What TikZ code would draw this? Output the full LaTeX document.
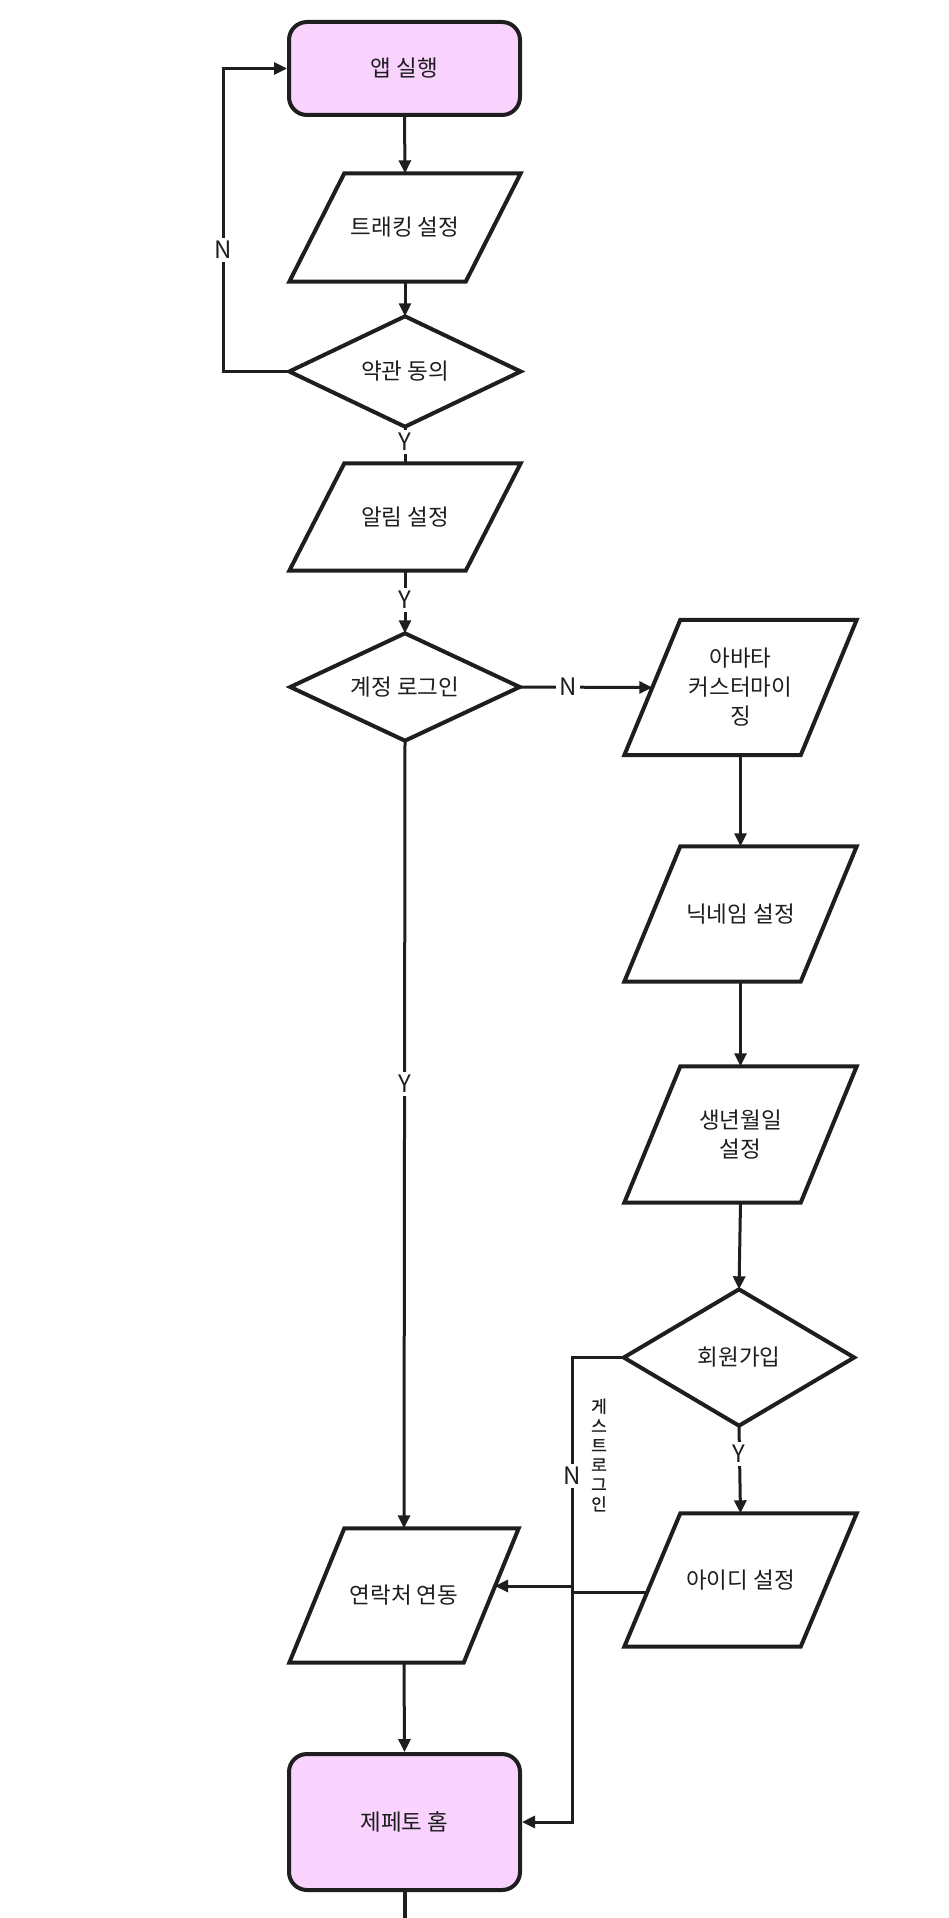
\documentclass[tikz,border=0pt]{standalone}
\usepackage{fontspec}
\setmainfont{Noto Sans CJK KR}
\newfontfamily\vfont[FakeBold=0.8]{Noto Sans CJK KR}
\usetikzlibrary{arrows.meta,calc}
\definecolor{pinkfill}{HTML}{F9D3FE}
\definecolor{ink}{HTML}{1E1E1E}
\newcommand\drawpara[2]{\draw[shp] (#1.south west) -- ([xshift=#2]#1.north west) -- (#1.north east) -- ([xshift=-#2]#1.south east) -- cycle;}
\newcommand\drawdiam[1]{\draw[shp] (#1.west) -- (#1.north) -- (#1.east) -- (#1.south) -- cycle;}
\begin{document}
\begin{tikzpicture}[x=1pt,y=-1pt,
  box/.style={draw=none, inner sep=0pt, font=\fontsize{22.5}{29}\selectfont, align=center, text=ink},
  term/.style={box, draw=ink, line width=4pt, fill=pinkfill, rounded corners=18pt},
  shp/.style={draw=ink, line width=4pt, line join=miter},
  conn/.style={draw=ink, line width=3pt},
  arr/.style={conn, -{Triangle[length=13pt,width=12pt]}},
  lab/.style={fill=white, inner sep=3pt, font=\fontsize{24}{24}\selectfont, text=ink},
  vlab/.style={inner sep=0pt, font=\vfont\fontsize{17}{19.5}\selectfont, align=center, text=ink}]
\useasboundingbox (0,0) rectangle (948,1918);
\fill[white] (0,0) rectangle (948,1918);

% left column
\node[term, minimum width=231pt, minimum height=93pt] (app) at (404.5,68.5) {앱 실행};
\node[box, minimum width=231pt, minimum height=108pt] (trk) at (405,227.5) {트래킹 설정};
\drawpara{trk}{55pt}
\node[box, minimum width=231pt, minimum height=110pt] (yak) at (405,371.5) {약관 동의};
\drawdiam{yak}
\node[box, minimum width=231pt, minimum height=107pt] (alm) at (405,517) {알림 설정};
\drawpara{alm}{55pt}
\node[box, minimum width=229pt, minimum height=107pt] (gye) at (405,687) {계정 로그인};
\drawdiam{gye}
\node[box, minimum width=229pt, minimum height=134pt] (yeon) at (404,1595.5) {연락처 연동};
\drawpara{yeon}{55pt}
\node[term, minimum width=231pt, minimum height=136pt] (jep) at (404.5,1822) {제페토 홈};

% right column
\node[box, minimum width=232pt, minimum height=135pt] (ava) at (740.5,687.5) {아바타\\커스터마이\\징};
\drawpara{ava}{56pt}
\node[box, minimum width=232pt, minimum height=135pt] (nick) at (740.5,914) {닉네임 설정};
\drawpara{nick}{56pt}
\node[box, minimum width=232pt, minimum height=136pt] (bir) at (740.5,1134.5) {생년월일\\설정};
\drawpara{bir}{56pt}
\node[box, minimum width=230pt, minimum height=136pt] (hoe) at (739,1357.5) {회원가입};
\drawdiam{hoe}
\node[box, minimum width=232pt, minimum height=133pt] (id) at (740.5,1580) {아이디 설정};
\drawpara{id}{56pt}

% helper coordinates
\coordinate (loopX) at (223,371.5);
\coordinate (avaW) at ([xshift=28pt]ava.west);
\coordinate (hoeC) at (572,1357.5);
\coordinate (idW) at ([xshift=23pt,yshift=-12pt]id.west);
\coordinate (yeonE) at ([xshift=-23.7pt,yshift=9.5pt]yeon.east);
\coordinate (bot) at (404.5,1920);

% connectors
\draw[arr] (app.south) -- (trk.north);
\draw[arr] (trk.south) -- (yak.north);
\draw[arr] (yak.west) -- (loopX) -- (loopX |- app.west) -- (app.west);
\draw[conn] (yak.south) -- (alm.north);
\draw[arr] (alm.south) -- (gye.north);
\draw[arr] (gye.east) -- (avaW);
\draw[arr] (gye.south) -- (yeon.north);
\draw[arr] (ava.south) -- (nick.north);
\draw[arr] (nick.south) -- (bir.north);
\draw[arr] (bir.south) -- (hoe.north);
\draw[arr] (hoe.south) -- (id.north);
\draw[arr] (hoe.west) -- (hoeC) -- (hoeC |- jep.east) -- (jep.east);
\draw[conn] (idW) -- (idW -| hoeC);
\draw[arr] (yeonE -| hoeC) -- (yeonE);
\draw[arr] (yeon.south) -- (jep.north);
\draw[draw=ink, line width=4pt] (jep.south) -- (bot);

% labels
\node[lab] (n1) at (223,250) {N};
\node[lab] (y1) at (405,442) {Y};
\node[lab] (y2) at (405,600) {Y};
\node[lab] (n2) at (568,687) {N};
\node[lab] (y3) at (405,1084) {Y};
\node[lab] (y4) at (739,1454) {Y};
\node[lab] (n3) at (572,1476) {N};
\node[vlab] (gl) at (599,1455) {게\\스\\트\\로\\그\\인};
\end{tikzpicture}
\end{document}
